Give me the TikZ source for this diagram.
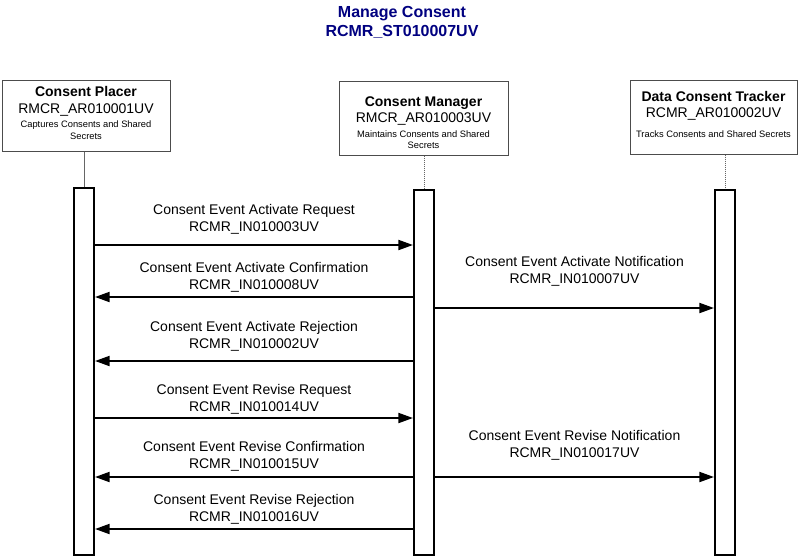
\documentclass[tikz,border=0pt]{standalone}
\usepackage{fontspec}
\setmainfont{Liberation Sans}
\usetikzlibrary{arrows.meta,positioning}
\definecolor{titleblue}{RGB}{0,0,128}
\newcommand{\smalltxt}[1]{{\fontsize{7}{8.5}\selectfont #1}}
\tikzset{
	role/.style={draw=black!70, line width=0.75pt, fill=white, inner sep=0pt},
	roletext/.style={align=center, inner sep=0pt, font=\fontsize{10.5}{12.75}\selectfont},
	bar/.style={draw=black, line width=1.5pt, fill=white, minimum width=15pt, inner sep=0pt},
	life/.style={draw=black!60, line width=0.75pt},
	msg/.style={line width=1.5pt, -{Triangle[length=11pt,width=7.5pt]}},
	lbl/.style={align=center, inner sep=0pt, font=\fontsize{10.5}{12.75}\selectfont}
}

\begin{document}
\begin{tikzpicture}[x=0.75pt, y=-0.75pt]

	\useasboundingbox (0,0) rectangle (800,558);

	\node[align=center, text=titleblue, font=\fontsize{12}{14.25}\selectfont\bfseries] (title) at (402,22) {Manage Consent\\RCMR\_ST010007UV};

	\node[role, minimum width=126pt, minimum height=53.25pt] (placer) at (86,115.5) {};
	\node[role, minimum width=126.75pt, minimum height=55.5pt] (mgr) at (423.5,118) {};
	\node[role, minimum width=125.25pt, minimum height=55.5pt] (trk) at (713.5,117) {};

	\node[roletext, below=4.7pt of placer.north] (placertxt) {\textbf{Consent Placer}\\RMCR\_AR010001UV\\[-2.25pt]\smalltxt{Captures Consents and Shared}\\[-3.75pt]\smalltxt{Secrets}};
	\node[roletext, below=11.8pt of mgr.north] (mgrtxt) {\textbf{Consent Manager}\\[-0.75pt]RMCR\_AR010003UV\\[-1.5pt]\smalltxt{Maintains Consents and Shared}\\[-4.5pt]\smalltxt{Secrets}};
	\node[roletext, below=8.8pt of trk.north] (trktxt) {\textbf{Data Consent Tracker}\\[-0.75pt]RCMR\_AR010002UV\\[2.25pt]\smalltxt{Tracks Consents and Shared Secrets}};

	\coordinate (placertop) at (84,187);
	\coordinate (mgrtop) at (424,189);
	\coordinate (trktop) at (725,189);

	\draw[life] (placertop |- placer.south) -- (placertop);
	\draw[life, dash pattern=on 0.75pt off 0.75pt] (mgrtop |- mgr.south) -- (mgrtop);
	\draw[life, dash pattern=on 0.75pt off 0.75pt] (trktop |- trk.south) -- (trktop);

	\node[bar, minimum height=275.25pt, anchor=north] (placerbar) at (placertop) {};
	\node[bar, minimum height=273.75pt, anchor=north] (mgrbar) at (mgrtop) {};
	\node[bar, minimum height=273.75pt, anchor=north] (trkbar) at (trktop) {};

	\foreach \y/\ly/\a/\b/\txt [count=\i] in {
	245/219.5/placerbar.east/mgrbar.west/{Consent Event Activate Request\\RCMR\_IN010003UV},
	297/277/mgrbar.west/placerbar.east/{Consent Event Activate Confirmation\\RCMR\_IN010008UV},
	308/271/mgrbar.east/trkbar.west/{Consent Event Activate Notification\\RCMR\_IN010007UV},
	361/336/mgrbar.west/placerbar.east/{Consent Event Activate Rejection\\RCMR\_IN010002UV},
	418/399.5/placerbar.east/mgrbar.west/{Consent Event Revise Request\\RCMR\_IN010014UV},
	477/456/mgrbar.west/placerbar.east/{Consent Event Revise Confirmation\\RCMR\_IN010015UV},
	477/445.5/mgrbar.east/trkbar.west/{Consent Event Revise Notification\\RCMR\_IN010017UV},
	529/509/mgrbar.west/placerbar.east/{Consent Event Revise Rejection\\RCMR\_IN010016UV}}
	{
		\draw[msg] (\a |- 0,\y) -- (\b |- 0,\y);
		\path (\a |- 0,\ly) -- node[lbl] (lbl\i) {\txt} (\b |- 0,\ly);
	};
\end{tikzpicture}
\end{document}
